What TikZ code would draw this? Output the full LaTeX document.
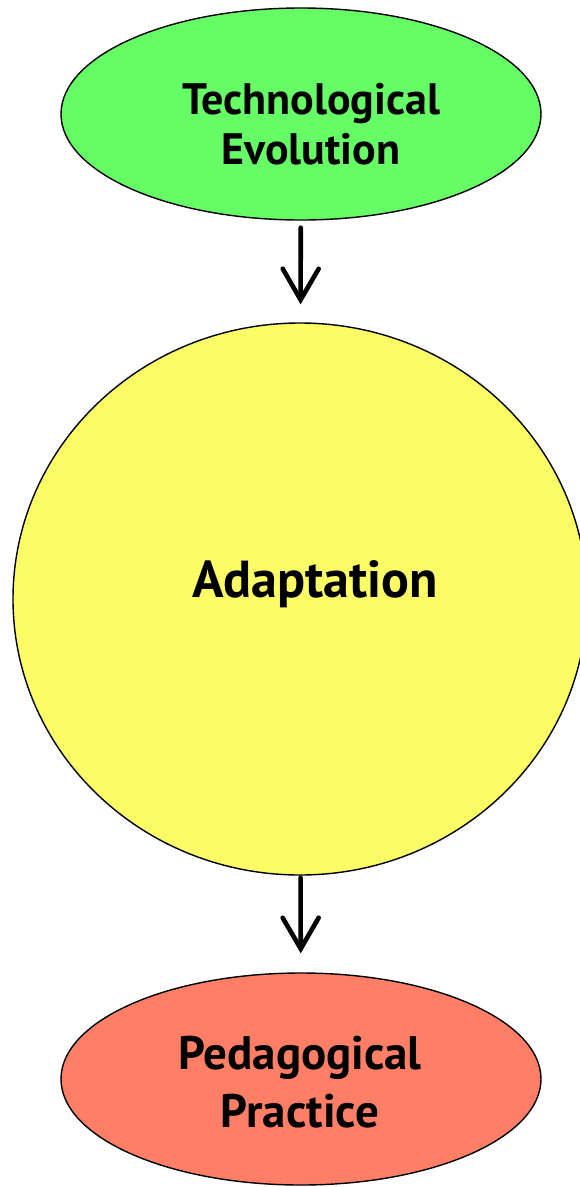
\documentclass[tikz,border=0pt]{standalone}
\usepackage{fontspec}
\setmainfont{PT Sans}
\usetikzlibrary{shapes.geometric,arrows.meta}

\definecolor{techgreen}{RGB}{102,252,102}
\definecolor{adaptyellow}{RGB}{252,252,102}
\definecolor{pedasalmon}{RGB}{255,127,102}

\begin{document}
\begin{tikzpicture}[x=1pt,y=-1pt]
        \tikzset{Blob/.style={ellipse, draw=black, line width=1.4pt, inner sep=0pt}}
        \tikzset{BlobText/.style={align=center, inner sep=0pt, font=\bfseries\fontsize{44}{50}\selectfont}}
        \tikzset{FlowArrow/.style={line width=4.6pt, line cap=round,
                -{Straight Barb[length=31pt,width=36pt,line cap=round]}}}
        \useasboundingbox (0,0) rectangle (579,1187);
        \node[Blob, fill=techgreen, minimum width=480pt, minimum height=212pt] (Tech) at (301,114) {};
        \node[Blob, fill=adaptyellow, minimum width=574pt, minimum height=552pt] (Adapt) at (300,599) {};
        \node[Blob, fill=pedasalmon, minimum width=480pt, minimum height=212pt] (Peda) at (301,1079) {};
        \node[BlobText] (TechText) at (311,124) {Technological\\Evolution};
        \node[BlobText, font=\bfseries\fontsize{52}{56}\selectfont] (AdaptText) at (315,584) {Adaptation};
        \node[BlobText, font=\bfseries\fontsize{47}{58}\selectfont] (PedaText) at (300,1082) {Pedagogical\\Practice};
        \draw[FlowArrow, shorten <=7pt, shorten >=18pt] (Tech) -- (Adapt);
        \draw[FlowArrow, shorten <=2pt, shorten >=19pt] (Adapt) -- (Peda);
    \end{tikzpicture}
\end{document}
